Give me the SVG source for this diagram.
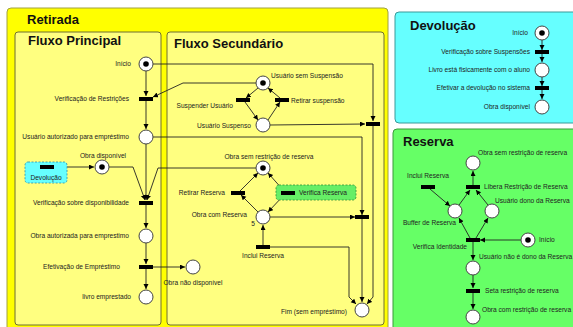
<svg xmlns="http://www.w3.org/2000/svg" width="573" height="327" viewBox="0 0 573 327">
<style>
.lbl{font-family:"Liberation Sans",Arial,sans-serif;font-size:6.6px;fill:#222}
.ttl{font-family:"Liberation Sans",Arial,sans-serif;font-size:13px;font-weight:bold;fill:#111}
.pl{fill:#fff;stroke:#444;stroke-width:1}
.tk{fill:#000}
.tr{fill:#000}
.arc{fill:none;stroke:#222;stroke-width:0.9}
.e{text-anchor:end}
.m{text-anchor:middle}
</style>
<defs>
<marker id="ah" markerWidth="6" markerHeight="6" refX="5" refY="2.5" orient="auto" markerUnits="userSpaceOnUse">
<path d="M0,0 L5,2.5 L0,5 z" fill="#000"/>
</marker>
</defs>
<rect width="573" height="327" fill="#fff"/>

<g id="retirada">
<rect x="7" y="8" width="381" height="330" rx="4" fill="#ffff00" stroke="#a0a040" stroke-width="1"/>
<text class="ttl" x="27" y="24">Retirada</text>
</g>
<g id="fluxo-principal">
<rect x="15" y="32" width="146" height="293" rx="3" fill="#ffff80" stroke="#6f6f30" stroke-width="1"/>
<text class="ttl" x="28" y="45">Fluxo Principal</text>
</g>
<g id="fluxo-secundario">
<rect x="167" y="32" width="217" height="293" rx="3" fill="#ffff80" stroke="#6f6f30" stroke-width="1"/>
<text class="ttl" x="174" y="48">Fluxo Secundário</text>
</g>
<g id="devolucao-panel">
<rect x="395" y="12" width="185" height="111" rx="4" fill="#66ffff" stroke="#3a9a9a" stroke-width="1"/>
<text class="ttl" x="410" y="30">Devolução</text>
</g>
<g id="reserva-panel">
<rect x="393" y="129" width="187" height="205" rx="4" fill="#66ff66" stroke="#3a9a3a" stroke-width="1"/>
<text class="ttl" x="403" y="146">Reserva</text>
</g>

<g id="connectors">
<!-- Fluxo Principal -->
<path class="arc" d="M146,71 L146,96" marker-end="url(#ah)"/>
<path class="arc" d="M146,101 L146,129" marker-end="url(#ah)"/>
<path class="arc" d="M256,83 L183,83 L153,97" marker-end="url(#ah)"/>
<path class="arc" d="M153,64 L373,64 L373,121" marker-end="url(#ah)"/>
<path class="arc" d="M153,137 L362,137 L362,215" marker-end="url(#ah)"/>
<path class="arc" d="M146,144 L146,200" marker-end="url(#ah)"/>
<path class="arc" d="M54,167 L94,167" marker-end="url(#ah)"/>
<path class="arc" d="M109,167 L133,167 L145,200" marker-end="url(#ah)"/>
<path class="arc" d="M256,168 L158,168 L147,200" marker-end="url(#ah)"/>
<path class="arc" d="M146,205 L146,228" marker-end="url(#ah)"/>
<path class="arc" d="M146,243 L146,264" marker-end="url(#ah)"/>
<path class="arc" d="M146,269 L146,289" marker-end="url(#ah)"/>
<path class="arc" d="M153,267 L185,267" marker-end="url(#ah)"/>
<!-- Fluxo Secundário -->
<path class="arc" d="M258,88 L246,98" marker-end="url(#ah)"/>
<path class="arc" d="M245,102 L258,120" marker-end="url(#ah)"/>
<path class="arc" d="M268,120 L280,102" marker-end="url(#ah)"/>
<path class="arc" d="M280,98 L268,88" marker-end="url(#ah)"/>
<path class="arc" d="M270,125 L365,124" marker-end="url(#ah)"/>
<path class="arc" d="M373,126 L373,297 L367,304" marker-end="url(#ah)"/>
<path class="arc" d="M362,219 L362,302" marker-end="url(#ah)"/>
<path class="arc" d="M270,247 L349,247 L349,297 L356,304" marker-end="url(#ah)"/>
<path class="arc" d="M270,217 L355,217" marker-end="url(#ah)"/>
<path class="arc" d="M240,191 L258,173" marker-end="url(#ah)"/>
<path class="arc" d="M258,212 L241,195" marker-end="url(#ah)"/>
<path class="arc" d="M284,191 L268,173" marker-end="url(#ah)"/>
<path class="arc" d="M284,195 L268,212" marker-end="url(#ah)"/>
<path class="arc" d="M263,245 L263,225" marker-end="url(#ah)"/>
<!-- Devolução -->
<path class="arc" d="M542,40 L542,50" marker-end="url(#ah)"/>
<path class="arc" d="M542,54 L542,62" marker-end="url(#ah)"/>
<path class="arc" d="M542,77 L542,86" marker-end="url(#ah)"/>
<path class="arc" d="M542,90 L542,99" marker-end="url(#ah)"/>
<!-- Reserva -->
<path class="arc" d="M473,185 L473,171" marker-end="url(#ah)"/>
<path class="arc" d="M459,205 L470,190" marker-end="url(#ah)"/>
<path class="arc" d="M488,205 L476,190" marker-end="url(#ah)"/>
<path class="arc" d="M430,189 L450,206" marker-end="url(#ah)"/>
<path class="arc" d="M470,238 L459,218" marker-end="url(#ah)"/>
<path class="arc" d="M476,238 L488,218" marker-end="url(#ah)"/>
<path class="arc" d="M521,240 L480,240" marker-end="url(#ah)"/>
<path class="arc" d="M473,242 L473,260" marker-end="url(#ah)"/>
<path class="arc" d="M473,275 L473,288" marker-end="url(#ah)"/>
<path class="arc" d="M473,293 L473,309" marker-end="url(#ah)"/>
</g>

<!-- Fluxo Principal nodes -->
<g id="fp-inicio"><circle class="pl" cx="146" cy="64" r="7"/><circle class="tk" cx="146" cy="64" r="2.8"/><text class="lbl e" x="131" y="66.3">Início</text></g>
<g id="fp-verif-restricoes"><rect class="tr" x="139" y="97" width="14" height="4"/><text class="lbl e" x="129" y="101.3">Verificação de Restrições</text></g>
<g id="fp-usuario-autorizado"><circle class="pl" cx="146" cy="137" r="7"/><text class="lbl e" x="129" y="139.3">Usuário autorizado para empréstimo</text></g>
<g id="fp-devolucao"><rect x="25" y="162" width="42" height="21" rx="3" fill="#66ffff" stroke="#3a9aaa" stroke-width="0.9" stroke-dasharray="2,1.5"/><rect class="tr" x="40" y="165" width="14" height="4"/><text class="lbl m" x="46" y="180">Devolução</text></g>
<g id="fp-obra-disponivel"><circle class="pl" cx="102" cy="167" r="7"/><circle class="tk" cx="102" cy="167" r="2.8"/><text class="lbl m" x="103" y="158">Obra disponível</text></g>
<g id="fp-verif-disponibilidade"><rect class="tr" x="139" y="201" width="14" height="4"/><text class="lbl e" x="129" y="205.3">Verificação sobre disponibilidade</text></g>
<g id="fp-obra-autorizada"><circle class="pl" cx="146" cy="236" r="7"/><text class="lbl e" x="129" y="238.3">Obra autorizada para emprestimo</text></g>
<g id="fp-efetivacao"><rect class="tr" x="139" y="265" width="14" height="4"/><text class="lbl e" x="120" y="269.3">Efetivação de Empréstimo</text></g>
<g id="fp-livro-emprestado"><circle class="pl" cx="146" cy="297" r="7"/><text class="lbl e" x="131" y="299.3">livro emprestado</text></g>
<g id="fp-obra-nao-disponivel"><circle class="pl" cx="193" cy="267" r="7"/><text class="lbl m" x="193" y="285">Obra não disponível</text></g>

<!-- Fluxo Secundário nodes -->
<g id="fs-usuario-sem-suspensao"><circle class="pl" cx="263" cy="83" r="7"/><circle class="tk" cx="263" cy="83" r="2.8"/><text class="lbl" x="271" y="78">Usuário sem Suspensão</text></g>
<g id="fs-suspender"><rect class="tr" x="236" y="98" width="14" height="4"/><text class="lbl e" x="233" y="108">Suspender Usuário</text></g>
<g id="fs-retirar-suspensao"><rect class="tr" x="275" y="98" width="14" height="4"/><text class="lbl" x="291" y="103">Retirar suspensão</text></g>
<g id="fs-usuario-suspenso"><circle class="pl" cx="263" cy="125" r="7"/><text class="lbl e" x="251" y="128">Usuário Suspenso</text></g>
<g id="fs-t-suspenso"><rect class="tr" x="366" y="122" width="14" height="4"/></g>
<g id="fs-obra-sem-restricao"><circle class="pl" cx="263" cy="168" r="7"/><circle class="tk" cx="263" cy="168" r="2.8"/><text class="lbl m" x="269" y="159">Obra sem restrição de reserva</text></g>
<g id="fs-retirar-reserva"><rect class="tr" x="231" y="191" width="14" height="4"/><text class="lbl e" x="225" y="195.3">Retirar Reserva</text></g>
<g id="fs-verifica-reserva"><rect x="276" y="185" width="80" height="15" rx="3" fill="#66ee66" stroke="#3a9a3a" stroke-width="0.9" stroke-dasharray="2,1.5"/><rect class="tr" x="281" y="191" width="14" height="4"/><text class="lbl" x="299" y="195.3">Verifica Reserva</text></g>
<g id="fs-obra-com-reserva"><circle class="pl" cx="263" cy="217" r="7"/><text class="lbl e" x="247" y="217">Obra com Reserva</text><text class="lbl m" x="253" y="226">5</text></g>
<g id="fs-inclui-reserva"><rect class="tr" x="256" y="245" width="14" height="4"/><text class="lbl m" x="263" y="257.5">Inclui Reserva</text></g>
<g id="fs-t-com-reserva"><rect class="tr" x="355" y="215" width="14" height="4"/></g>
<g id="fs-fim"><circle class="pl" cx="362" cy="310" r="7"/><text class="lbl e" x="347" y="314">Fim (sem empréstimo)</text></g>

<!-- Devolução nodes -->
<g id="dv-inicio"><circle class="pl" cx="542" cy="33" r="7"/><circle class="tk" cx="542" cy="33" r="2.8"/><text class="lbl e" x="528" y="35.3">Início</text></g>
<g id="dv-verif-suspensoes"><rect class="tr" x="535" y="50" width="14" height="4"/><text class="lbl e" x="530" y="54.3">Verificação sobre Suspensões</text></g>
<g id="dv-livro"><circle class="pl" cx="542" cy="70" r="7"/><text class="lbl e" x="530" y="72.3">Livro está fisicamente com o aluno</text></g>
<g id="dv-efetivar"><rect class="tr" x="535" y="86" width="14" height="4"/><text class="lbl e" x="530" y="90.3">Efetivar a devolução no sistema</text></g>
<g id="dv-obra-disponivel"><circle class="pl" cx="542" cy="107" r="7"/><text class="lbl e" x="530" y="109.3">Obra disponível</text></g>

<!-- Reserva nodes -->
<g id="rs-obra-sem-restricao"><circle class="pl" cx="473" cy="163" r="7"/><text class="lbl" x="478" y="155.3">Obra sem restrição de reserva</text></g>
<g id="rs-libera"><rect class="tr" x="466" y="185" width="14" height="4"/><text class="lbl" x="484" y="189.3">Libera Restrição de Reserva</text></g>
<g id="rs-inclui"><rect class="tr" x="421" y="185" width="14" height="4"/><text class="lbl m" x="428" y="178.3">Inclui Reserva</text></g>
<g id="rs-buffer"><circle class="pl" cx="455" cy="211" r="7"/><text class="lbl e" x="456" y="225.3">Buffer de  Reserva</text></g>
<g id="rs-dono"><circle class="pl" cx="492" cy="211" r="7"/><text class="lbl" x="495" y="203.3">Usuário dono da Reserva</text></g>
<g id="rs-verifica-identidade"><rect class="tr" x="466" y="238" width="14" height="4"/><text class="lbl e" x="467" y="249.3">Verifica Identidade</text></g>
<g id="rs-inicio"><circle class="pl" cx="528" cy="240" r="7"/><circle class="tk" cx="528" cy="240" r="2.8"/><text class="lbl" x="539" y="242.3">Início</text></g>
<g id="rs-nao-dono"><circle class="pl" cx="473" cy="268" r="7"/><text class="lbl" x="479" y="259.3">Usuário não é dono da Reserva</text></g>
<g id="rs-seta"><rect class="tr" x="466" y="289" width="14" height="4"/><text class="lbl" x="485" y="293.3">Seta restrição de reserva</text></g>
<g id="rs-obra-com-restricao"><circle class="pl" cx="473" cy="317" r="7"/><text class="lbl" x="482" y="312.3">Obra com restrição de reserva</text></g>
</svg>
